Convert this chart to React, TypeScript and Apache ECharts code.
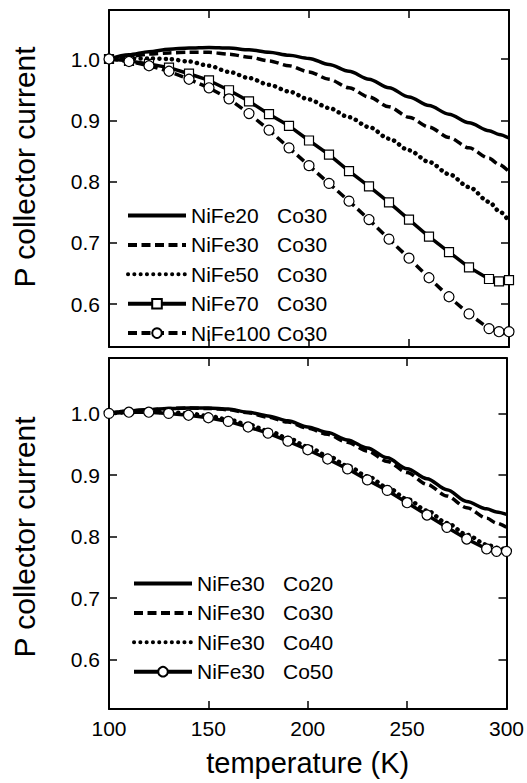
import React, { useEffect, useRef } from "react";
import * as echarts from "echarts";

const temperature = [100, 110, 120, 130, 140, 150, 160, 170, 180, 190, 200, 210, 220, 230, 240, 250, 260, 270, 280, 290, 295, 300];

// top panel (Co30, varying NiFe)
const nife20 = [1.0, 1.007, 1.012, 1.016, 1.018, 1.019, 1.018, 1.015, 1.011, 1.006, 1.001, 0.991, 0.98, 0.967, 0.953, 0.938, 0.924, 0.91, 0.896, 0.883, 0.877, 0.871];
const nife30 = [1.0, 1.004, 1.008, 1.01, 1.011, 1.011, 1.008, 1.003, 0.997, 0.989, 0.979, 0.967, 0.953, 0.938, 0.922, 0.905, 0.889, 0.872, 0.855, 0.838, 0.828, 0.816];
const nife50 = [1.0, 1.001, 1.001, 1.0, 0.996, 0.989, 0.979, 0.969, 0.958, 0.947, 0.934, 0.92, 0.905, 0.889, 0.87, 0.851, 0.832, 0.812, 0.791, 0.767, 0.752, 0.735];
const nife70 = [1.0, 0.997, 0.992, 0.986, 0.976, 0.965, 0.949, 0.931, 0.91, 0.891, 0.867, 0.844, 0.817, 0.792, 0.766, 0.738, 0.71, 0.685, 0.66, 0.641, 0.637, 0.639];
const nife100 = [1.0, 0.996, 0.989, 0.98, 0.967, 0.953, 0.935, 0.911, 0.884, 0.855, 0.826, 0.797, 0.768, 0.738, 0.706, 0.675, 0.643, 0.612, 0.584, 0.56, 0.555, 0.555];

// bottom panel (NiFe30, varying Co)
const co20 = [1.0, 1.004, 1.006, 1.008, 1.009, 1.009, 1.007, 1.002, 0.996, 0.988, 0.978, 0.969, 0.957, 0.944, 0.928, 0.91, 0.894, 0.876, 0.857, 0.845, 0.84, 0.836];
const co30 = [1.0, 1.004, 1.006, 1.008, 1.009, 1.008, 1.006, 1.001, 0.994, 0.986, 0.976, 0.966, 0.953, 0.939, 0.922, 0.904, 0.885, 0.866, 0.847, 0.83, 0.822, 0.815];
const co40 = [1.0, 1.002, 1.003, 1.002, 1.0, 0.996, 0.99, 0.982, 0.972, 0.96, 0.946, 0.931, 0.915, 0.898, 0.88, 0.861, 0.842, 0.822, 0.803, 0.787, 0.782, 0.779];
const co50 = [1.0, 1.002, 1.002, 1.0, 0.997, 0.993, 0.987, 0.978, 0.968, 0.955, 0.941, 0.926, 0.91, 0.892, 0.875, 0.855, 0.835, 0.815, 0.796, 0.78, 0.776, 0.776];

const topLabels = ["NiFe20 Co30", "NiFe30 Co30", "NiFe50 Co30", "NiFe70 Co30", "NiFe100 Co30"];
const bottomLabels = ["NiFe30 Co20", "NiFe30 Co30", "NiFe30 Co40", "NiFe30 Co50"];
const yTicks = [0.6, 0.7, 0.8, 0.9, 1.0];
const xTickInterval = 50;
const xTitle = "temperature (K)";
const yTitle = "P collector current";

const FONT = "Liberation Sans, Arial, Helvetica, sans-serif";

const pairs = (ys: number[]) => temperature.map((t, i) => [t, ys[i]]);

type Style = { dash: any; width: number; round?: boolean };
const SOLID: Style = { dash: "solid", width: 3.5 };
const DASH: Style = { dash: [9, 4.5], width: 3.5 };
const DOT: Style = { dash: [0.1, 6.2], width: 4.5, round: true };

function makeSeries(id: string, ys: number[], st: Style, panel: number, symbol = "none") {
  return {
    type: "line",
    name: id,
    xAxisIndex: panel * 2,
    yAxisIndex: panel * 2,
    data: pairs(ys),
    smooth: symbol === "none" ? 0.3 : false,
    smoothMonotone: "x",
    symbol,
    symbolSize: symbol === "rect" ? 9 : 10,
    showSymbol: symbol !== "none",
    clip: false,
    lineStyle: { color: "#000", width: st.width, type: st.dash, cap: st.round ? "round" : "butt" },
    itemStyle: { color: "#fff", borderColor: "#000", borderWidth: 1.2 },
    emphasis: { disabled: true },
  };
}

export default function App() {
  const ref = useRef<HTMLDivElement>(null);
  useEffect(() => {
    if (!ref.current) return;
    const chart = echarts.init(ref.current, undefined, { renderer: "svg" });
    const display: Record<string, string> = {};
    const topIds = topLabels.map((l) => "T:" + l);
    const botIds = bottomLabels.map((l) => "B:" + l);
    topLabels.forEach((l, i) => (display[topIds[i]] = l));
    bottomLabels.forEach((l, i) => (display[botIds[i]] = l));
    const withMarker = new Set([topIds[3], topIds[4], botIds[3]]);

    const axisLine = { show: true, lineStyle: { color: "#000", width: 2 } };
    const axisTick = { show: true, inside: true, length: 8, lineStyle: { color: "#000", width: 1.5 } };

    const xAxisBase = (grid: number, pos: string, labels: boolean, name?: string) => ({
      type: "value",
      gridIndex: grid,
      position: pos,
      min: 100,
      max: 300,
      interval: xTickInterval,
      axisLine,
      axisTick,
      splitLine: { show: false },
      axisLabel: {
        show: labels,
        color: "#000",
        fontFamily: FONT,
        fontSize: 21,
        margin: 9,
      },
      name,
      nameLocation: "middle",
      nameGap: 39,
      nameTextStyle: { color: "#000", fontFamily: FONT, fontSize: 29 },
    });
    const yAxisBase = (grid: number, pos: string, labels: boolean, min: number, max: number) => ({
      type: "value",
      gridIndex: grid,
      position: pos,
      min,
      max,
      axisLine,
      axisTick: { ...axisTick, customValues: yTicks },
      splitLine: { show: false },
      axisLabel: {
        show: labels,
        customValues: yTicks,
        color: "#000",
        fontFamily: FONT,
        fontSize: 21,
        margin: 9,
        formatter: (v: number) => v.toFixed(1),
      },
    });

    const legendBase = (ids: string[], left: number, top: number) => ({
      data: ids.map((id) =>
        withMarker.has(id)
          ? { name: id }
          : { name: id, itemStyle: { color: "transparent", borderColor: "transparent", borderWidth: 0, opacity: 0 } }
      ),
      orient: "vertical",
      left,
      top,
      itemWidth: 58,
      itemHeight: 12,
      itemGap: 8.4,
      selectedMode: false,
      lineStyle: { width: 4 },
      formatter: (name: string) => {
        const [a, b] = display[name].split(" ");
        return `{a|${a}}{b|${b}}`;
      },
      textStyle: {
        color: "#000",
        fontFamily: FONT,
        fontSize: 21,
        rich: {
          a: { width: 86, fontSize: 21, lineHeight: 22, fontFamily: FONT, color: "#000" },
          b: { fontSize: 21, lineHeight: 22, fontFamily: FONT, color: "#000" },
        },
      },
    });

    const yTitleText = (y: number) => ({
      type: "text",
      x: 24,
      y,
      rotation: Math.PI / 2,
      style: {
        text: yTitle,
        fontFamily: FONT,
        fontSize: 30,
        fill: "#000",
        textAlign: "center",
        textVerticalAlign: "middle",
      },
    });

    chart.setOption({
      animation: false,
      backgroundColor: "#fff",
      grid: [
        { left: 109, top: 10, width: 400, height: 337 },
        { left: 109, top: 358, width: 400, height: 351 },
      ],
      xAxis: [
        xAxisBase(0, "bottom", false),
        xAxisBase(0, "top", false),
        xAxisBase(1, "bottom", true, xTitle),
        xAxisBase(1, "top", false),
      ],
      yAxis: [
        yAxisBase(0, "left", true, 0.53, 1.08),
        yAxisBase(0, "right", false, 0.53, 1.08),
        yAxisBase(1, "left", true, 0.52, 1.09),
        yAxisBase(1, "right", false, 0.52, 1.09),
      ],
      graphic: [yTitleText(167), yTitleText(537)],
      legend: [legendBase(topIds, 121, 200), legendBase(botIds, 127, 568)],
      series: [
        makeSeries(topIds[0], nife20, SOLID, 0),
        makeSeries(topIds[1], nife30, DASH, 0),
        makeSeries(topIds[2], nife50, DOT, 0),
        makeSeries(topIds[3], nife70, SOLID, 0, "rect"),
        makeSeries(topIds[4], nife100, DASH, 0, "circle"),
        makeSeries(botIds[0], co20, SOLID, 1),
        makeSeries(botIds[1], co30, DASH, 1),
        makeSeries(botIds[2], co40, DOT, 1),
        makeSeries(botIds[3], co50, SOLID, 1, "circle"),
      ],
    });
    return () => chart.dispose();
  }, []);
  return <div ref={ref} style={{ position: "fixed", left: 0, top: 0, width: 527, height: 783 }} />;
}
